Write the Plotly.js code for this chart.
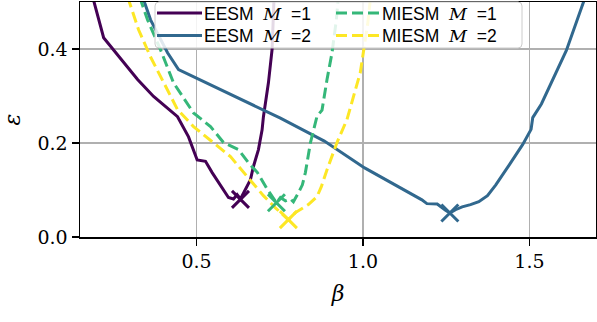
<!DOCTYPE html>
<html>
<head>
<meta charset="utf-8">
<script src="https://cdn.plot.ly/plotly-3.0.1.min.js"></script>
<style>html,body{margin:0;padding:0;background:#fff;}</style>
</head>
<body>
<div id="chart" style="width:597px;height:322px;"></div>
<script>
// EESM M=1
const eesm1Beta = [0.188,0.221,0.323,0.371,0.443,0.476,0.502,0.527,0.547,0.577,0.596,0.611,0.622,0.632,0.647,0.662,0.671,0.686,0.697,0.701,0.716,0.727,0.733];
const eesm1Eps  = [0.511,0.424,0.335,0.299,0.256,0.213,0.164,0.161,0.137,0.105,0.084,0.081,0.090,0.081,0.101,0.122,0.150,0.186,0.228,0.256,0.328,0.399,0.511];
// EESM M=2
const eesm2Beta = [0.338,0.362,0.413,0.446,0.752,0.884,1.005,1.106,1.177,1.192,1.223,1.248,1.261,1.278,1.298,1.323,1.348,1.374,1.399,1.440,1.480,1.505,1.510,1.536,1.611,1.668];
const eesm2Eps  = [0.511,0.462,0.392,0.356,0.253,0.204,0.147,0.107,0.079,0.071,0.070,0.057,0.051,0.058,0.064,0.069,0.075,0.088,0.111,0.154,0.197,0.229,0.254,0.283,0.397,0.511];
// MIESM M=1
const miesm1Beta = [0.329,0.353,0.392,0.431,0.491,0.542,0.581,0.626,0.656,0.683,0.713,0.731,0.740,0.752,0.767,0.782,0.791,0.806,0.818,0.827,0.842,0.862,0.877,0.892,0.907,0.920,0.926];
const miesm1Eps  = [0.511,0.462,0.398,0.328,0.264,0.235,0.201,0.186,0.158,0.137,0.101,0.084,0.073,0.084,0.077,0.081,0.075,0.094,0.111,0.137,0.200,0.257,0.270,0.335,0.392,0.462,0.511];
// MIESM M=2
const miesm2Beta = [0.293,0.326,0.362,0.401,0.443,0.491,0.551,0.602,0.653,0.701,0.737,0.776,0.797,0.812,0.836,0.862,0.875,0.892,0.922,0.952,0.971,0.992,1.001,1.014,1.023];
const miesm2Eps  = [0.511,0.441,0.383,0.328,0.271,0.235,0.201,0.171,0.128,0.088,0.062,0.037,0.052,0.058,0.069,0.086,0.107,0.143,0.201,0.250,0.299,0.350,0.392,0.452,0.511];
// minima markers
const minBeta = [0.632, 1.261, 0.740, 0.776];
const minEps  = [0.080, 0.051, 0.073, 0.037];

const labels = ["EESM", "EESM", "MIESM", "MIESM"];
const mValues = ["1", "2", "1", "2"];
const colors = ['#440154', '#31688e', '#35b779', '#fde725'];

const serif = 'DejaVu Serif';
const sans = 'Liberation Sans';

const series = [
  [eesm1Beta, eesm1Eps, 'solid'],
  [eesm2Beta, eesm2Eps, 'solid'],
  [miesm1Beta, miesm1Eps, '11px,5px'],
  [miesm2Beta, miesm2Eps, '11px,5px']
];
const names = labels.map((l, i) => l + " M =" + mValues[i]);
const traces = [];
series.forEach((s, i) => {
  traces.push({
    x: s[0], y: s[1], mode: 'lines', name: names[i],
    line: {color: colors[i], width: 3, dash: s[2]}, showlegend: false
  });
});
series.forEach((s, i) => {
  traces.push({
    x: [minBeta[i]], y: [minEps[i]], mode: 'markers', showlegend: false, name: names[i] + ' min',
    marker: {symbol: 'x-thin', size: 17, line: {color: colors[i], width: 3}, color: colors[i]}
  });
});

// ---- legend drawn in paper coordinates (layout only) ----
const W = 597, H = 322, ML = 80, MR = 1, MT = 2, MB = 85;
const pw = W - ML - MR, ph = H - MT - MB;
const px = v => (v - ML) / pw;
const py = v => (H - MB - v) / ph;
const box = {x0: 155, x1: 522, y0: 2, y1: 48, r: 4};
function roundRect(b) {
  const {x0, x1, y0, y1, r} = b;
  const pts = [
    ['M', x0 + r, y0], ['L', x1 - r, y0], ['Q', x1, y0, x1, y0 + r],
    ['L', x1, y1 - r], ['Q', x1, y1, x1 - r, y1], ['L', x0 + r, y1],
    ['Q', x0, y1, x0, y1 - r], ['L', x0, y0 + r], ['Q', x0, y0, x0 + r, y0]
  ];
  return pts.map(p => {
    let s = p[0];
    for (let k = 1; k < p.length; k += 2) s += (k > 1 ? ' ' : '') + px(p[k]).toFixed(5) + ',' + py(p[k + 1]).toFixed(5);
    return s;
  }).join(' ') + ' Z';
}
const shapes = [{
  type: 'path', xref: 'paper', yref: 'paper', layer: 'above',
  path: roundRect(box), fillcolor: 'rgba(255,255,255,0.85)', line: {color: '#cccccc', width: 1}
}];
const annotations = [];
const rowsY = [13, 35.5];
const colSample = [[157, 202], [336, 380]];
const colText = [203, 381];
[0, 1, 2, 3].forEach(i => {
  const col = i < 2 ? 0 : 1, row = i % 2;
  shapes.push({
    type: 'line', xref: 'paper', yref: 'paper', layer: 'above',
    x0: px(colSample[col][0]), x1: px(colSample[col][1]), y0: py(rowsY[row]), y1: py(rowsY[row]),
    line: {color: colors[i], width: 3, dash: series[i][2]}
  });
  annotations.push({
    xref: 'paper', yref: 'paper', x: px(colText[col]), y: py(rowsY[row] + 0.5),
    xanchor: 'left', yanchor: 'middle', showarrow: false, borderpad: 0,
    text: labels[i] + "&nbsp;&nbsp;<span style='font-family:" + serif + "'><i>M</i></span>&nbsp;&nbsp;=" + mValues[i],
    font: {family: sans, size: 17.5, color: '#000'}
  });
});

const layout = {
  width: W, height: H,
  margin: {l: ML, r: MR, t: MT, b: MB},
  paper_bgcolor: '#fff', plot_bgcolor: '#fff',
  showlegend: false,
  shapes: shapes, annotations: annotations,
  xaxis: {
    range: [0.15, 1.7], tickvals: [0.5, 1.0, 1.5], ticktext: ['0.5', '1.0', '1.5'],
    showgrid: true, gridcolor: '#b0b0b0', gridwidth: 1.5,
    showline: true, linecolor: '#000', linewidth: 1.5, mirror: true,
    ticks: 'outside', ticklen: 7, tickwidth: 1.5, tickcolor: '#000',
    tickfont: {family: serif, size: 19, color: '#000'},
    zeroline: false,
    title: {text: '<i>β</i>', font: {family: serif, size: 22, color: '#000'}, standoff: 14}
  },
  yaxis: {
    range: [0, 0.5], tickvals: [0, 0.2, 0.4], ticktext: ['0.0', '0.2', '0.4'],
    showgrid: true, gridcolor: '#b0b0b0', gridwidth: 1.5,
    showline: true, linecolor: '#000', linewidth: 1.5, mirror: true,
    ticks: 'outside', ticklen: 7, tickwidth: 1.5, tickcolor: '#000',
    tickfont: {family: serif, size: 19, color: '#000'},
    zeroline: false,
    title: {text: '<i>ε</i>', font: {family: serif, size: 22, color: '#000'}, standoff: 16}
  }
};

Plotly.newPlot('chart', traces, layout, {displayModeBar: false, staticPlot: true});
</script>
</body>
</html>
